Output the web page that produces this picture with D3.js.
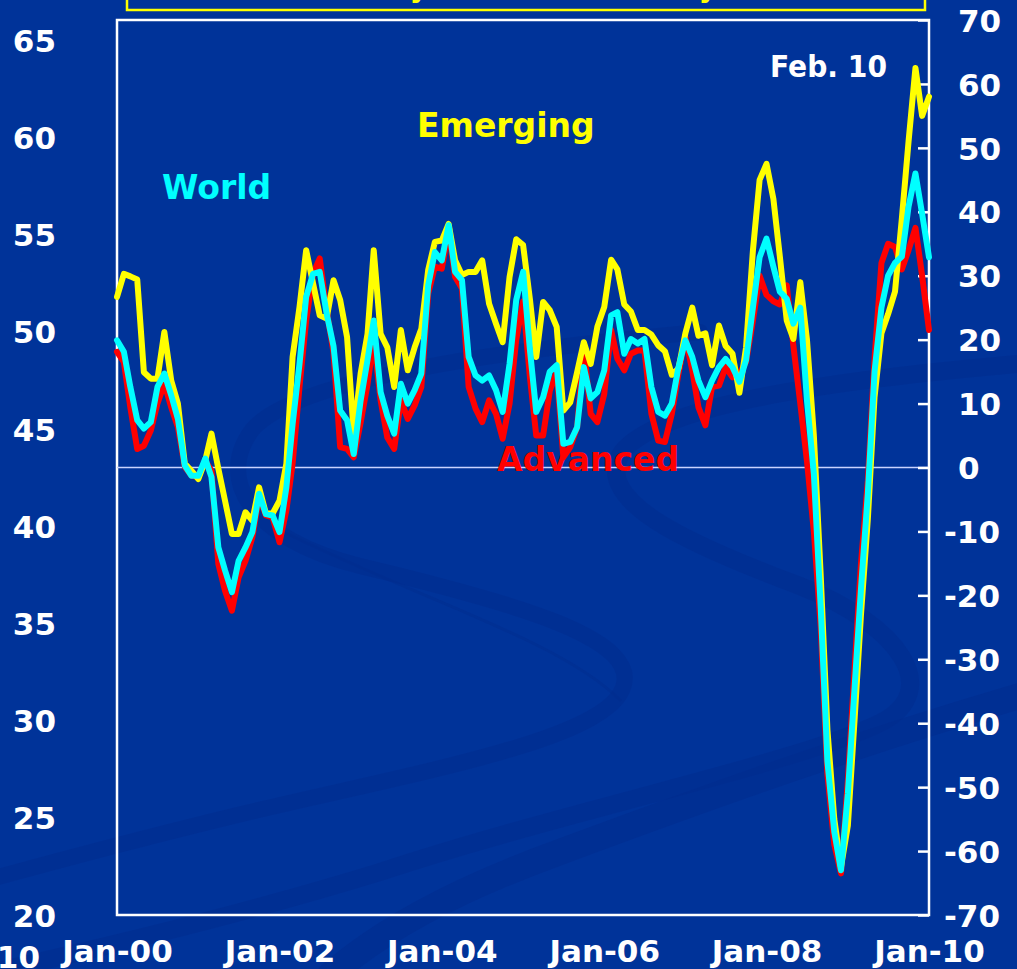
<!DOCTYPE html>
<html>
<head>
<meta charset="utf-8">
<script src="https://cdn.jsdelivr.net/npm/d3@7"></script>
<style>
  html, body { margin: 0; padding: 0; background: #003399; overflow: hidden; }
  svg { display: block; }
  text { font-family: "DejaVu Sans", Verdana, sans-serif; font-weight: bold; }
</style>
</head>
<body>
<svg id="chart" width="1017" height="969"></svg>
<script>
// Monthly observations, Jan 2000 – Jan 2010 (% , 3m/3m annualised)
const months = d3.timeMonth.range(new Date(2000, 0, 1), new Date(2010, 1, 1));

const emerging = [
  26.7, 30.3, 29.9, 29.4, 14.9, 13.9, 13.9, 21.2, 13.6, 10.0,
  0.6, -0.5, -1.8, 1.1, 5.3, -0.2, -5.2, -10.4, -10.4, -7.0,
  -8.3, -3.1, -7.2, -7.2, -5.2, 0.6, 17.3, 25.1, 34.0, 28.8,
  23.8, 23.3, 29.3, 26.2, 20.4, 5.3, 14.7, 20.9, 34.0, 20.9,
  18.8, 12.6, 21.5, 15.2, 18.8, 21.7, 30.9, 35.3, 35.5, 38.1,
  32.4, 30.1, 30.6, 30.6, 32.4, 25.6, 22.5, 19.6, 29.8, 35.7,
  34.8, 26.2, 17.3, 25.9, 24.6, 22.0, 8.9, 10.2, 14.9, 19.6,
  16.2, 22.0, 25.1, 32.5, 31.0, 25.5, 24.4, 21.5, 21.5, 20.8,
  19.1, 18.2, 14.5, 15.5, 21.0, 25.0, 20.6, 21.0, 16.0, 22.2,
  19.0, 17.8, 11.7, 18.8, 34.0, 45.0, 47.5, 42.0, 33.0, 23.0,
  20.1, 29.0, 20.0, 5.0, -17, -41, -55, -62.5, -56, -39,
  -23, -8, 11, 21, 24, 27.5, 39, 51, 62.5, 55,
  58
];

const world = [
  19.9, 18.1, 12.6, 7.4, 6.1, 7.1, 12.6, 14.7, 11.3, 7.6,
  0.3, -1.3, -1.3, 1.4, -1.5, -12.5, -16.1, -19.5, -14.6, -12.5,
  -10.1, -4.1, -7.3, -7.5, -10.1, -3.1, 6.8, 16.2, 26.7, 30.3,
  30.6, 24.1, 19.0, 8.9, 7.4, 2.1, 10.5, 16.8, 23.0, 11.8,
  8.1, 5.3, 13.1, 10.0, 12.1, 14.7, 28.5, 33.7, 32.4, 37.9,
  30.6, 29.3, 17.3, 14.4, 13.6, 14.4, 12.1, 8.7, 16.2, 26.2,
  30.6, 18.3, 8.7, 11.0, 15.0, 16.0, 3.7, 4.0, 6.3, 15.7,
  10.8, 11.8, 15.2, 23.8, 24.3, 17.8, 20.1, 19.4, 20.1, 12.6,
  8.7, 8.1, 10.0, 15.7, 19.9, 17.3, 13.6, 11.0, 13.6, 15.7,
  17.0, 15.7, 13.4, 16.8, 25.1, 32.9, 35.8, 31.4, 27.5, 26.4,
  22.5, 25.0, 10.5, -1.0, -22, -46, -57, -63, -51, -34,
  -19, -4, 15, 25, 30, 32, 33, 40.8, 46, 39.7,
  32.9
];

const advanced = [
  18.1, 16.5, 9.4, 2.9, 3.4, 5.8, 10.0, 13.1, 9.4, 6.3,
  0.1, -1.3, -1.5, 1.1, -0.5, -15.1, -19.3, -22.4, -17.2, -14.6,
  -10.9, -4.6, -7.5, -7.8, -11.7, -6.7, 0.6, 12.6, 23.0, 30.3,
  32.7, 24.6, 18.0, 3.2, 2.9, 1.6, 7.0, 13.0, 20.0, 10.5,
  4.7, 2.9, 10.5, 7.6, 9.7, 12.6, 27.2, 31.4, 31.1, 37.1,
  29.8, 28.0, 12.6, 9.2, 7.1, 10.5, 8.4, 4.5, 10.0, 20.0,
  26.0, 14.0, 5.0, 5.0, 12.0, 15.0, 1.6, 3.2, 6.3, 18.8,
  8.4, 7.1, 11.5, 21.5, 17.0, 15.2, 17.8, 18.3, 18.3, 8.4,
  4.2, 4.0, 8.4, 14.7, 20.4, 15.2, 9.4, 6.6, 12.6, 12.8,
  15.7, 14.1, 14.7, 16.5, 23.0, 30.0, 27.0, 26.0, 25.5, 28.5,
  19.0, 10.0, 1.0, -10, -25, -48, -59, -63.5, -49, -31,
  -15, -2, 17, 32, 35, 34.5, 31, 34, 37.5, 30,
  21.5
];

// Axis tick labels
const leftTicks = [20, 25, 30, 35, 40, 45, 50, 55, 60, 65];
const rightTicks = [-70, -60, -50, -40, -30, -20, -10, 0, 10, 20, 30, 40, 50, 60, 70];
const xTickYears = [2000, 2002, 2004, 2006, 2008, 2010];

const svg = d3.select("#chart");
const W = 1017, H = 969;
const plot = { left: 117, right: 929, top: 20, bottom: 915 };

// Background
svg.append("rect").attr("width", W).attr("height", H).attr("fill", "#003399");

// Faint "S" ribbon watermark
const deco = svg.append("g").attr("fill", "none").attr("stroke", "#002c8e").attr("stroke-linecap", "round");
deco.append("path")
  .attr("d", "M700,332 C560,345 300,372 252,430 C215,480 252,540 360,566 C520,604 645,640 622,690 C600,740 420,772 250,812 C150,836 60,860 -20,882")
  .attr("stroke-width", 16).attr("opacity", 0.5);
deco.append("path")
  .attr("d", "M1040,362 C850,378 662,402 622,452 C592,500 682,542 800,586 C902,626 942,690 882,722 C802,762 560,812 380,872 C250,912 120,944 -20,975")
  .attr("stroke-width", 18).attr("opacity", 0.5);
deco.append("path")
  .attr("d", "M1040,690 C860,742 700,800 560,852 C450,892 380,932 330,975")
  .attr("stroke-width", 26).attr("opacity", 0.55);
deco.append("path")
  .attr("d", "M280,530 C420,600 560,640 620,700")
  .attr("stroke-width", 3).attr("opacity", 0.45);

// Title box (mostly above the visible area)
svg.append("rect")
  .attr("x", 127).attr("y", -60).attr("width", 798).attr("height", 70)
  .attr("fill", "none").attr("stroke", "#ffff00").attr("stroke-width", 2.5);
const title = svg.append("text").attr("y", -3).attr("fill", "#ffff00").attr("font-size", 28);
title.append("tspan").attr("x", 428).attr("text-anchor", "end").text("Industrial Activity");
title.append("tspan").attr("x", 717).attr("text-anchor", "end").text("Momentum Survey");

// Scales
const x = d3.scaleTime()
  .domain([new Date(2000, 0, 1), new Date(2010, 0, 1)])
  .range([plot.left, plot.right]);
const yR = d3.scaleLinear().domain([-70, 70]).range([plot.bottom, plot.top]);
const yL = d3.scaleLinear().domain([20, 65]).range([plot.bottom, 40]);

// Plot frame
svg.append("rect")
  .attr("x", plot.left).attr("y", plot.top)
  .attr("width", plot.right - plot.left).attr("height", plot.bottom - plot.top)
  .attr("fill", "none").attr("stroke", "#ffffff").attr("stroke-width", 2.5);

// Zero line
svg.append("line")
  .attr("x1", plot.left).attr("x2", plot.right)
  .attr("y1", yR(0)).attr("y2", yR(0))
  .attr("stroke", "#c9d3ff").attr("stroke-width", 1.5);

// Right axis: inward ticks, hyphen minus
const rAxis = svg.append("g")
  .attr("transform", `translate(${plot.right},0)`)
  .call(d3.axisRight(yR).tickValues(rightTicks).tickSize(-11).tickPadding(29).tickFormat(d => String(d)));
rAxis.select(".domain").remove();
rAxis.selectAll(".tick line").attr("stroke", "#ffffff").attr("stroke-width", 2.5);
rAxis.selectAll(".tick text")
  .attr("fill", "#ffffff").attr("font-size", 31).attr("font-family", null)
  .attr("x", d => d < 0 ? 15 : 29).attr("dy", "0.36em");

// Left axis: labels only
const lAxis = svg.append("g")
  .attr("transform", "translate(56,0)")
  .call(d3.axisLeft(yL).tickValues(leftTicks).tickSize(0).tickPadding(0).tickFormat(d => String(d)));
lAxis.select(".domain").remove();
lAxis.selectAll(".tick text")
  .attr("fill", "#ffffff").attr("font-size", 31).attr("font-family", null).attr("dy", "0.36em");

svg.append("text").attr("x", 40).attr("y", 968).attr("text-anchor", "end")
  .attr("fill", "#ffffff").attr("font-size", 31).text("10");

// Bottom axis labels
const xAxis = svg.append("g")
  .attr("transform", `translate(0,${plot.bottom})`)
  .call(d3.axisBottom(x).tickValues(xTickYears.map(yr => new Date(yr, 0, 1)))
    .tickSize(0).tickFormat(d3.timeFormat("Jan-%y")));
xAxis.select(".domain").remove();
xAxis.selectAll(".tick text")
  .attr("fill", "#ffffff").attr("font-size", 31).attr("font-family", null)
  .attr("y", 47).attr("dy", 0);

// Series lines
const series = [
  { name: "Advanced", values: advanced, color: "#ff0000" },
  { name: "Emerging", values: emerging, color: "#ffff00" },
  { name: "World", values: world, color: "#00ffff" }
];
const line = d3.line()
  .x((d, i) => x(months[i]))
  .y(d => yR(d));
svg.append("g").selectAll("path")
  .data(series)
  .join("path")
  .attr("d", s => line(s.values))
  .attr("fill", "none")
  .attr("stroke", s => s.color)
  .attr("stroke-width", 6)
  .attr("stroke-linejoin", "round")
  .attr("stroke-linecap", "round");

// Series labels
svg.append("text").attr("x", 417).attr("y", 137).attr("fill", "#ffff00").attr("font-size", 33).text("Emerging");
svg.append("text").attr("x", 162).attr("y", 199).attr("fill", "#00ffff").attr("font-size", 33).text("World");
svg.append("text").attr("x", 497).attr("y", 471).attr("fill", "#ff0000").attr("font-size", 33).text("Advanced");
svg.append("text").attr("x", 770).attr("y", 77).attr("fill", "#ffffff").attr("font-size", 30)
  .attr("textLength", 117).attr("lengthAdjust", "spacingAndGlyphs").text("Feb. 10");
</script>
</body>
</html>
